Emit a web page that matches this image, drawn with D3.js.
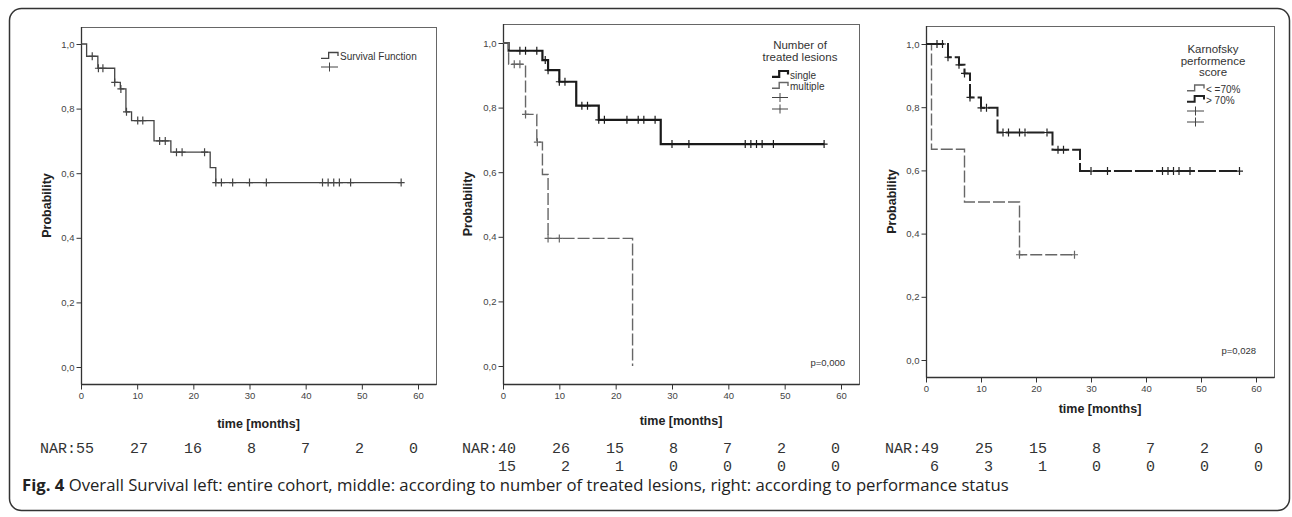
<!DOCTYPE html>
<html>
<head>
<meta charset="utf-8">
<script src="https://cdn.jsdelivr.net/npm/d3@7"></script>
<style>
  body { margin: 0; background: #fff; }
  svg { display: block; }
</style>
</head>
<body>
<svg width="1292" height="517"></svg>
<script>
// ---------- data ----------
const xTicks = [0, 10, 20, 30, 40, 50, 60];
const yTicks = [0, 0.2, 0.4, 0.6, 0.8, 1.0];

// entire cohort
const allTimes = [0, 1, 3, 6, 7, 8, 9, 13, 16, 23, 24];
const allSurv = [1.0, 0.962, 0.925, 0.881, 0.861, 0.790, 0.763, 0.700, 0.665, 0.617, 0.571];
const allCensor = [2, 3.1, 3.9, 6, 7.1, 8.1, 10.1, 11, 14, 15, 17, 18, 22, 24, 25, 27, 30, 33, 43, 44, 45, 46, 48, 57];
const allEnd = 57;
const allNar = [55, 27, 16, 8, 7, 2, 0];

// number of treated lesions
const singleTimes = [0, 1, 7, 8, 10, 13, 17, 28];
const singleSurv = [1.0, 0.976, 0.947, 0.916, 0.880, 0.806, 0.762, 0.687];
const singleCensor = [3, 4, 6, 7.5, 8, 10, 11, 14, 15, 17, 18, 22, 24, 25, 27, 30, 33, 43, 44, 45, 46, 48, 57];
const singleEnd = 57;
const singleNar = [40, 26, 15, 8, 7, 2, 0];

const multiTimes = [0, 1, 4, 6, 7, 8, 23];
const multiSurv = [1.0, 0.934, 0.779, 0.693, 0.593, 0.395, 0];
const multiCensor = [2, 3, 4, 6.1, 8, 10];
const multiEnd = 23;
const multiNar = [15, 2, 1, 0, 0, 0, 0];

// Karnofsky performance score
const kpsHighTimes = [0, 4, 6, 7, 8, 10, 13, 23, 28];
const kpsHighSurv = [1.0, 0.958, 0.934, 0.907, 0.831, 0.798, 0.720, 0.665, 0.598];
const kpsHighCensor = [2, 3, 4, 6, 7, 8, 10, 11, 14, 15, 17, 18, 22, 24, 25, 30, 33, 43, 44, 45, 46, 48, 57];
const kpsHighEnd = 57;
const kpsHighNar = [49, 25, 15, 8, 7, 2, 0];

const kpsLowTimes = [0, 1, 7, 17];
const kpsLowSurv = [1.0, 0.667, 0.5, 0.333];
const kpsLowCensor = [17, 27];
const kpsLowEnd = 27;
const kpsLowNar = [6, 3, 1, 0, 0, 0, 0];

const caption = "Overall Survival left: entire cohort, middle: according to number of treated lesions, right: according to performance status";

// ---------- styles ----------
const solidThin = { stroke: '#444', width: 1.3, dash: null };
const solidThick = { stroke: '#1a1a1a', width: 2.2, dash: null };
const dashThin = { stroke: '#666', width: 1.4, dash: '12,3' };
const dashThick = { stroke: '#222', width: 2, dash: '18,3' };

const panels = [
  {
    frame: { l: 81, r: 436, t: 27, b: 384 }, x0: 81, x60: 418, y0: 367, y1: 44,
    ylabX: 47, xlabY: 428,
    curves: [{ times: allTimes, surv: allSurv, censor: allCensor, end: allEnd, style: solidThin }],
    nar: [allNar],
    legend: { title: [], left: 321, width: 17, rows: [56.5, 67],
      items: [{ style: solidThin, label: 'Survival Function' }, { style: solidThin, censor: true }] },
    pval: null
  },
  {
    frame: { l: 503, r: 859, t: 24, b: 384 }, x0: 503, x60: 841, y0: 366, y1: 43,
    ylabX: 468, xlabY: 425,
    curves: [
      { times: singleTimes, surv: singleSurv, censor: singleCensor, end: singleEnd, style: solidThick },
      { times: multiTimes, surv: multiSurv, censor: multiCensor, end: multiEnd, style: dashThin }
    ],
    nar: [singleNar, multiNar],
    legend: { title: ['Number of', 'treated lesions'], cx: 800, titleY: [49, 61], left: 772, width: 16,
      rows: [75, 86.5, 97.5, 109],
      items: [{ style: solidThick, label: 'single' }, { style: dashThin, label: 'multiple' },
              { style: solidThin, censor: true }, { style: solidThin, censor: true }] },
    pval: { text: 'p=0,000', x: 845, y: 366 }
  },
  {
    frame: { l: 926, r: 1274, t: 26, b: 377 }, x0: 926, x60: 1256, y0: 360, y1: 44,
    ylabX: 892, xlabY: 413,
    curves: [
      { times: kpsLowTimes, surv: kpsLowSurv, censor: kpsLowCensor, end: kpsLowEnd, style: dashThin },
      { times: kpsHighTimes, surv: kpsHighSurv, censor: kpsHighCensor, end: kpsHighEnd, style: dashThick }
    ],
    nar: [kpsHighNar, kpsLowNar],
    legend: { title: ['Karnofsky', 'performence', 'score'], cx: 1213, titleY: [53, 65, 76], left: 1187, width: 17,
      rows: [89, 100, 111, 122],
      items: [{ style: dashThin, label: '< =70%' }, { style: dashThick, label: '> 70%' },
              { style: solidThin, censor: true }, { style: solidThin, censor: true }] },
    pval: { text: 'p=0,028', x: 1256, y: 354 }
  }
];

// ---------- drawing ----------
const svg = d3.select('svg');
const FONT = "'Liberation Sans', Arial, sans-serif";
const fmt = d => d3.format('.1f')(d).replace('.', ',');

// cadre extérieur
svg.append('rect')
  .attr('x', 9.5).attr('y', 8.5)
  .attr('width', 1280).attr('height', 502)
  .attr('rx', 12)
  .attr('fill', 'none')
  .attr('stroke', '#333')
  .attr('stroke-width', 1.5);

panels.forEach(p => {
  const g = svg.append('g');
  const x = d3.scaleLinear().domain([0, 60]).range([p.x0, p.x60]);
  const y = d3.scaleLinear().domain([0, 1]).range([p.y0, p.y1]);

  // cadre du graphique
  g.append('rect')
    .attr('x', p.frame.l + 0.5).attr('y', p.frame.t + 0.5)
    .attr('width', p.frame.r - p.frame.l).attr('height', p.frame.b - p.frame.t)
    .attr('fill', 'none').attr('stroke', '#666').attr('stroke-width', 1);

  // axe Y
  const ay = g.append('g')
    .attr('transform', `translate(${p.frame.l + 0.5},0)`)
    .call(d3.axisLeft(y).tickValues(yTicks).tickSize(5).tickPadding(2).tickFormat(fmt));
  ay.select('.domain').remove();
  ay.append('line').attr('x1', 0).attr('x2', 0).attr('y1', p.frame.t).attr('y2', p.frame.b + 0.5)
    .attr('stroke', '#333').attr('stroke-width', 1.3);

  // axe X
  const ax = g.append('g')
    .attr('transform', `translate(0,${p.frame.b + 0.5})`)
    .call(d3.axisBottom(x).tickValues(xTicks).tickSize(5).tickPadding(3));
  ax.select('.domain').remove();
  ax.append('line').attr('x1', p.frame.l).attr('x2', p.frame.r + 0.5).attr('y1', 0).attr('y2', 0)
    .attr('stroke', '#333').attr('stroke-width', 1.3);

  g.selectAll('.tick line').attr('stroke', '#333');
  g.selectAll('.tick text').attr('fill', '#444').style('font-size', '9.5px').style('font-family', FONT);

  // titres des axes
  g.append('text')
    .attr('transform', `translate(${p.ylabX},${(p.frame.t + p.frame.b) / 2}) rotate(-90)`)
    .attr('text-anchor', 'middle').attr('dy', '0.35em')
    .style('font-family', FONT).style('font-size', '12.5px').style('font-weight', 'bold')
    .attr('fill', '#222').text('Probability');
  g.append('text')
    .attr('x', (p.frame.l + p.frame.r) / 2).attr('y', p.xlabY)
    .attr('text-anchor', 'middle')
    .style('font-family', FONT).style('font-size', '12.5px').style('font-weight', 'bold')
    .attr('fill', '#222').text('time [months]');

  // courbes de survie
  const line = d3.line().x(d => x(d[0])).y(d => y(d[1])).curve(d3.curveStepAfter);
  p.curves.forEach(c => {
    const pts = c.times.map((t, i) => [t, c.surv[i]]);
    if (c.times[c.times.length - 1] < c.end) pts.push([c.end, c.surv[c.surv.length - 1]]);
    g.append('path')
      .attr('d', line(pts))
      .attr('fill', 'none')
      .attr('stroke', c.style.stroke)
      .attr('stroke-width', c.style.width)
      .attr('stroke-dasharray', c.style.dash);

    // observations censurées
    const level = t => c.surv[Math.max(0, d3.bisectRight(c.times, t) - 1)];
    g.selectAll(null).data(c.censor).join('path')
      .attr('d', t => {
        const cx = x(t), cy = y(level(t));
        return `M${cx},${cy - 4}V${cy + 4}M${cx - 3.5},${cy}H${cx + 3.5}`;
      })
      .attr('fill', 'none')
      .attr('stroke', c.style.stroke)
      .attr('stroke-width', 1.2);
  });

  // légende
  const L = p.legend;
  L.title.forEach((t, i) => {
    g.append('text').attr('x', L.cx).attr('y', L.titleY[i])
      .attr('text-anchor', 'middle')
      .style('font-family', FONT).style('font-size', '11.5px')
      .attr('fill', '#333').text(t);
  });
  L.items.forEach((it, i) => {
    const ry = L.rows[i], l = L.left, w = L.width;
    if (it.censor) {
      g.append('path')
        .attr('d', `M${l},${ry}H${l + w}M${l + w / 2},${ry - 4.5}V${ry + 4.5}`)
        .attr('fill', 'none').attr('stroke', it.style.stroke).attr('stroke-width', 1);
    } else {
      g.append('path')
        .attr('d', `M${l},${ry + 1.8}H${l + w * 0.45}V${ry - 4}H${l + w}V${ry - 0.5}`)
        .attr('fill', 'none').attr('stroke', it.style.stroke)
        .attr('stroke-width', it.style.width);
      g.append('text').attr('x', l + w + 2).attr('y', ry).attr('dy', '0.35em')
        .style('font-family', FONT).style('font-size', '10px')
        .attr('fill', '#333').text(it.label);
    }
  });

  // valeur p
  if (p.pval) {
    g.append('text').attr('x', p.pval.x).attr('y', p.pval.y)
      .attr('text-anchor', 'end')
      .style('font-family', FONT).style('font-size', '9.5px')
      .attr('fill', '#333').text(p.pval.text);
  }

  // nombre à risque
  p.nar.forEach((row, r) => {
    row.forEach((v, i) => {
      g.append('text')
        .attr('x', p.frame.l + 13 + i * 54)
        .attr('y', 453 + r * 17.5)
        .attr('text-anchor', 'end')
        .style('font-family', "'Liberation Mono', 'Courier New', monospace")
        .style('font-size', '15px')
        .attr('fill', '#333')
        .text(i === 0 && r === 0 ? 'NAR:' + v : v);
    });
  });
});

// légende de la figure
const cap = svg.append('text')
  .attr('x', 22).attr('y', 491)
  .style('font-family', "'Open Sans', 'Noto Sans', sans-serif")
  .style('font-size', '16.7px')
  .attr('fill', '#222');
cap.append('tspan').style('font-weight', 'bold').text('Fig. 4');
cap.append('tspan').text(' ' + caption);
</script>
</body>
</html>
